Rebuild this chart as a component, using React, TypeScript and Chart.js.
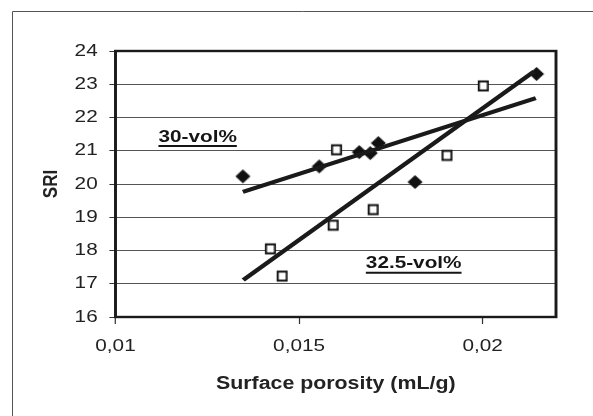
import React, { useEffect, useRef } from 'react';
import { Chart, registerables } from 'chart.js';

Chart.register(...registerables);

// horizontal stretch of the original picture
const SX = 1.22;

const diamondX = [0.01347, 0.01555, 0.01664, 0.01694, 0.01716, 0.01816, 0.02147];
const diamondY = [20.23, 20.53, 20.96, 20.93, 21.23, 20.06, 23.31];
const squareX = [0.01422, 0.01454, 0.01593, 0.01602, 0.01702, 0.01903, 0.02002];
const squareY = [18.05, 17.23, 18.76, 21.03, 19.23, 20.86, 22.95];
const trend30X = [0.01347, 0.02145];
const trend30Y = [19.76, 22.58];
const trend325X = [0.01348, 0.0214];
const trend325Y = [17.11, 23.38];
const xTicks = [0.01, 0.015, 0.02];
const xMin = 0.01;
const xMax = 0.022;
const yMin = 16;
const yMax = 24;
const yStep = 1;
const seriesLabels = ['30-vol%', '32.5-vol%'];
const labelX = [0.01117, 0.01682];
const labelY = [21.41, 17.6];
const xTitle = 'Surface porosity (mL/g)';
const yTitle = 'SRI';

const FONT = '"Liberation Sans", Arial, sans-serif';

function toPoints(xs: number[], ys: number[]) {
  return xs.map((x, i) => ({ x, y: ys[i] }));
}

function makeMarker(kind: 'diamond' | 'square'): HTMLCanvasElement {
  const c = document.createElement('canvas');
  const w = 18;
  const h = 18;
  c.width = Math.ceil(w / SX);
  c.height = h;
  const ctx = c.getContext('2d')!;
  ctx.translate(c.width / 2, h / 2);
  ctx.scale(1 / SX, 1);
  if (kind === 'diamond') {
    ctx.beginPath();
    ctx.moveTo(0, -7);
    ctx.lineTo(7.5, 0);
    ctx.lineTo(0, 7);
    ctx.lineTo(-7.5, 0);
    ctx.closePath();
    ctx.fillStyle = '#111';
    ctx.fill();
  } else {
    ctx.fillStyle = '#fff';
    ctx.fillRect(-4.5, -4.5, 9, 9);
    ctx.strokeStyle = '#111';
    ctx.lineWidth = 2;
    ctx.strokeRect(-4.5, -4.5, 9, 9);
  }
  return c;
}

const stretchPlugin = {
  id: 'stretch',
  beforeDraw(chart: any) {
    const ctx = chart.ctx;
    ctx.save();
    ctx.setTransform(SX, 0, 0, 1, 0, 0);
  },
  afterDatasetsDraw(chart: any) {
    const ctx = chart.ctx;
    const { left, top, right, bottom } = chart.chartArea;
    const xs = chart.scales.x;
    const ys = chart.scales.y;
    // series labels with underline
    ctx.save();
    ctx.font = `bold 17px ${FONT}`;
    ctx.fillStyle = '#151515';
    ctx.strokeStyle = '#151515';
    ctx.textAlign = 'left';
    ctx.textBaseline = 'middle';
    seriesLabels.forEach((t, i) => {
      const px = xs.getPixelForValue(labelX[i]);
      const py = ys.getPixelForValue(labelY[i]);
      ctx.fillText(t, px, py);
      const w = ctx.measureText(t).width;
      ctx.lineWidth = 2;
      ctx.beginPath();
      ctx.moveTo(px, py + 9);
      ctx.lineTo(px + w, py + 9);
      ctx.stroke();
    });
    ctx.restore();
    // plot border
    ctx.save();
    ctx.strokeStyle = '#1a1a1a';
    ctx.lineWidth = 2.4;
    ctx.strokeRect(left, top, right - left, bottom - top);
    ctx.restore();
  },
  afterDraw(chart: any) {
    const ctx = chart.ctx;
    ctx.restore();
    ctx.save();
    ctx.strokeStyle = '#555';
    ctx.lineWidth = 1;
    ctx.beginPath();
    ctx.moveTo(12.5, 416);
    ctx.lineTo(12.5, 11.5);
    ctx.lineTo(593, 11.5);
    ctx.stroke();
    ctx.restore();
  },
};

export default function App() {
  const ref = useRef<HTMLCanvasElement | null>(null);
  useEffect(() => {
    if (!ref.current) return;
    const diamond = makeMarker('diamond');
    const square = makeMarker('square');
    const chart = new Chart(ref.current, {
      type: 'scatter',
      data: {
        datasets: [
          {
            label: 'trend 30',
            data: toPoints(trend30X, trend30Y),
            showLine: true,
            borderColor: '#1a1a1a',
            borderWidth: 4,
            pointRadius: 0,
          },
          {
            label: 'trend 32.5',
            data: toPoints(trend325X, trend325Y),
            showLine: true,
            borderColor: '#1a1a1a',
            borderWidth: 4,
            pointRadius: 0,
          },
          {
            label: seriesLabels[0],
            data: toPoints(diamondX, diamondY),
            pointStyle: diamond as any,
            pointRadius: 7,
          },
          {
            label: seriesLabels[1],
            data: toPoints(squareX, squareY),
            pointStyle: square as any,
            pointRadius: 6,
          },
        ],
      },
      options: {
        responsive: false,
        animation: false,
        devicePixelRatio: 1,
        events: [],
        layout: { padding: { left: 0, top: 51, right: 593 - 556 / SX, bottom: 0 } },
        plugins: { legend: { display: false }, tooltip: { enabled: false } },
        scales: {
          x: {
            type: 'linear',
            min: xMin,
            max: xMax,
            afterBuildTicks: (s: any) => {
              s.ticks = xTicks.map((v) => ({ value: v }));
            },
            afterFit: (s: any) => {
              s.height = 99;
            },
            grid: {
              display: true,
              drawOnChartArea: false,
              drawTicks: true,
              tickLength: 7,
              color: '#333',
              tickColor: '#333',
              lineWidth: 1,
            },
            border: { display: false },
            ticks: {
              padding: 11.8,
              color: '#222',
              font: { family: FONT, size: 17 },
              maxRotation: 0,
              autoSkip: false,
              callback: (v: any) => String(v).replace('.', ','),
            },
            title: {
              display: true,
              text: xTitle,
              color: '#222',
              font: { family: FONT, size: 17.5, weight: 'bold' },
              padding: { top: 0, bottom: 21.5 },
            },
          },
          y: {
            type: 'linear',
            min: yMin,
            max: yMax,
            afterFit: (s: any) => {
              s.width = 115.5 / SX;
            },
            grid: {
              color: '#555',
              lineWidth: 1,
              tickLength: 5,
              tickColor: '#333',
            },
            border: { display: false },
            ticks: {
              stepSize: yStep,
              padding: 9.6,
              color: '#222',
              font: { family: FONT, size: 17 },
            },
            title: {
              display: true,
              text: yTitle,
              color: '#222',
              font: { family: FONT, size: 17, weight: 'bold' },
              padding: { top: 31.6, bottom: 0 },
            },
          },
        },
      },
      plugins: [stretchPlugin as any],
    });
    return () => chart.destroy();
  }, []);
  return (
    <div style={{ position: 'absolute', left: 0, top: 0, width: 593, height: 416 }}>
      <canvas ref={ref} width={593} height={416} style={{ display: 'block', width: 593, height: 416 }} />
    </div>
  );
}
